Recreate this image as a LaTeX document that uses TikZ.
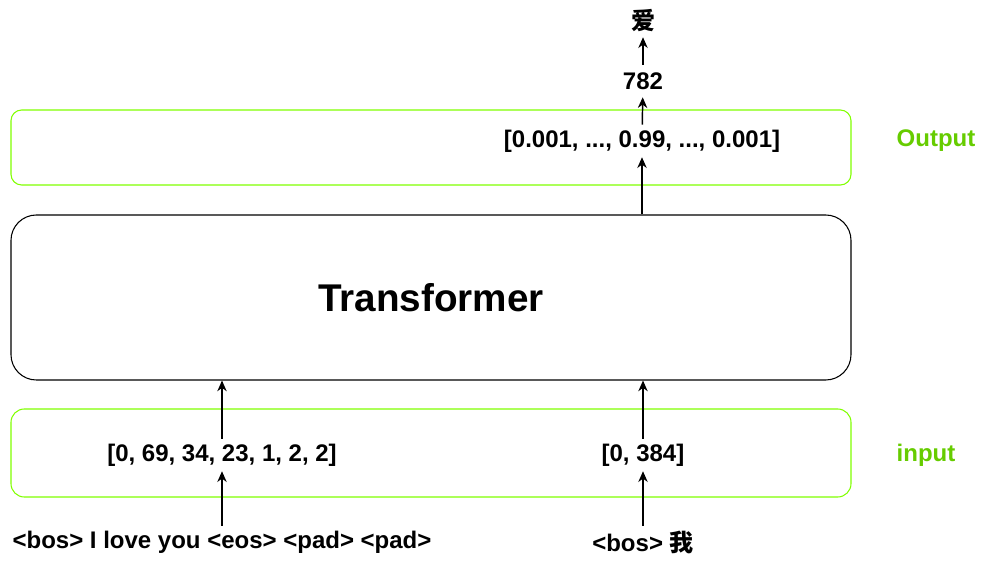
\documentclass[tikz,border=0pt]{standalone}
\usepackage{fontspec}
\setmainfont{Liberation Sans}
\newfontfamily\cjk{Noto Sans CJK SC}
\usetikzlibrary{arrows.meta}
\definecolor{boxgreen}{HTML}{80FF00}
\definecolor{labelgreen}{HTML}{66CC00}

\begin{document}
\begin{tikzpicture} [x=.75pt, y=-.75pt,
  txt/.style={font=\bfseries\fontsize{18}{20}\selectfont, inner sep=0, minimum height=24pt},
  layer/.style={draw=boxgreen, line width=.8pt, minimum width=630pt},
  flow/.style={black, line width=1.1pt, ->, >={Stealth[length=8pt, width=7pt, inset=2.5pt]}}]
\useasboundingbox (0,0) rectangle (983,573);
% boxes
\node[layer, rounded corners=8pt, minimum height=56.25pt] (outbox) at (431,147.5) {};
\node[layer, rounded corners=10pt, minimum height=66pt] (inbox) at (431,453) {};
\node[draw, line width=.8pt, rounded corners=19pt, minimum width=630pt, minimum height=123.75pt,
  font=\bfseries\fontsize{29}{34}\selectfont] (trans) at (431,297.5) {Transformer};
\node[txt, text=labelgreen] (outlbl) at (936,141) {Output};
\node[txt, text=labelgreen] (inlbl) at (926,455) {input};
% tokens and ids
\node[txt] (src) at (222,542) {<bos> I love you <eos> <pad> <pad>};
\node[txt] (tgt) at (643,542) {<bos> {\cjk 我}};
\node[txt] (srcid) at (222,455) {[0, 69, 34, 23, 1, 2, 2]};
\node[txt] (tgtid) at (643,455) {[0, 384]};
\node[txt] (prob) at (642,141) {[0.001, ..., 0.99, ..., 0.001]};
\node[txt] (idx) at (643,81) {782};
\node[txt] (word) at (643,21) {\cjk 爱};
% arrows
\draw[flow] (src) -- (srcid);
\draw[flow] (tgt) -- (tgtid);
\draw[flow] (srcid) -- (srcid |- trans.south);
\draw[flow] (tgtid) -- (tgtid |- trans.south);
\draw[flow] (prob |- trans.north) -- (prob);
\draw[flow] (prob) -- (idx);
\draw[flow] (idx) -- (word);
\end{tikzpicture}
\end{document}
